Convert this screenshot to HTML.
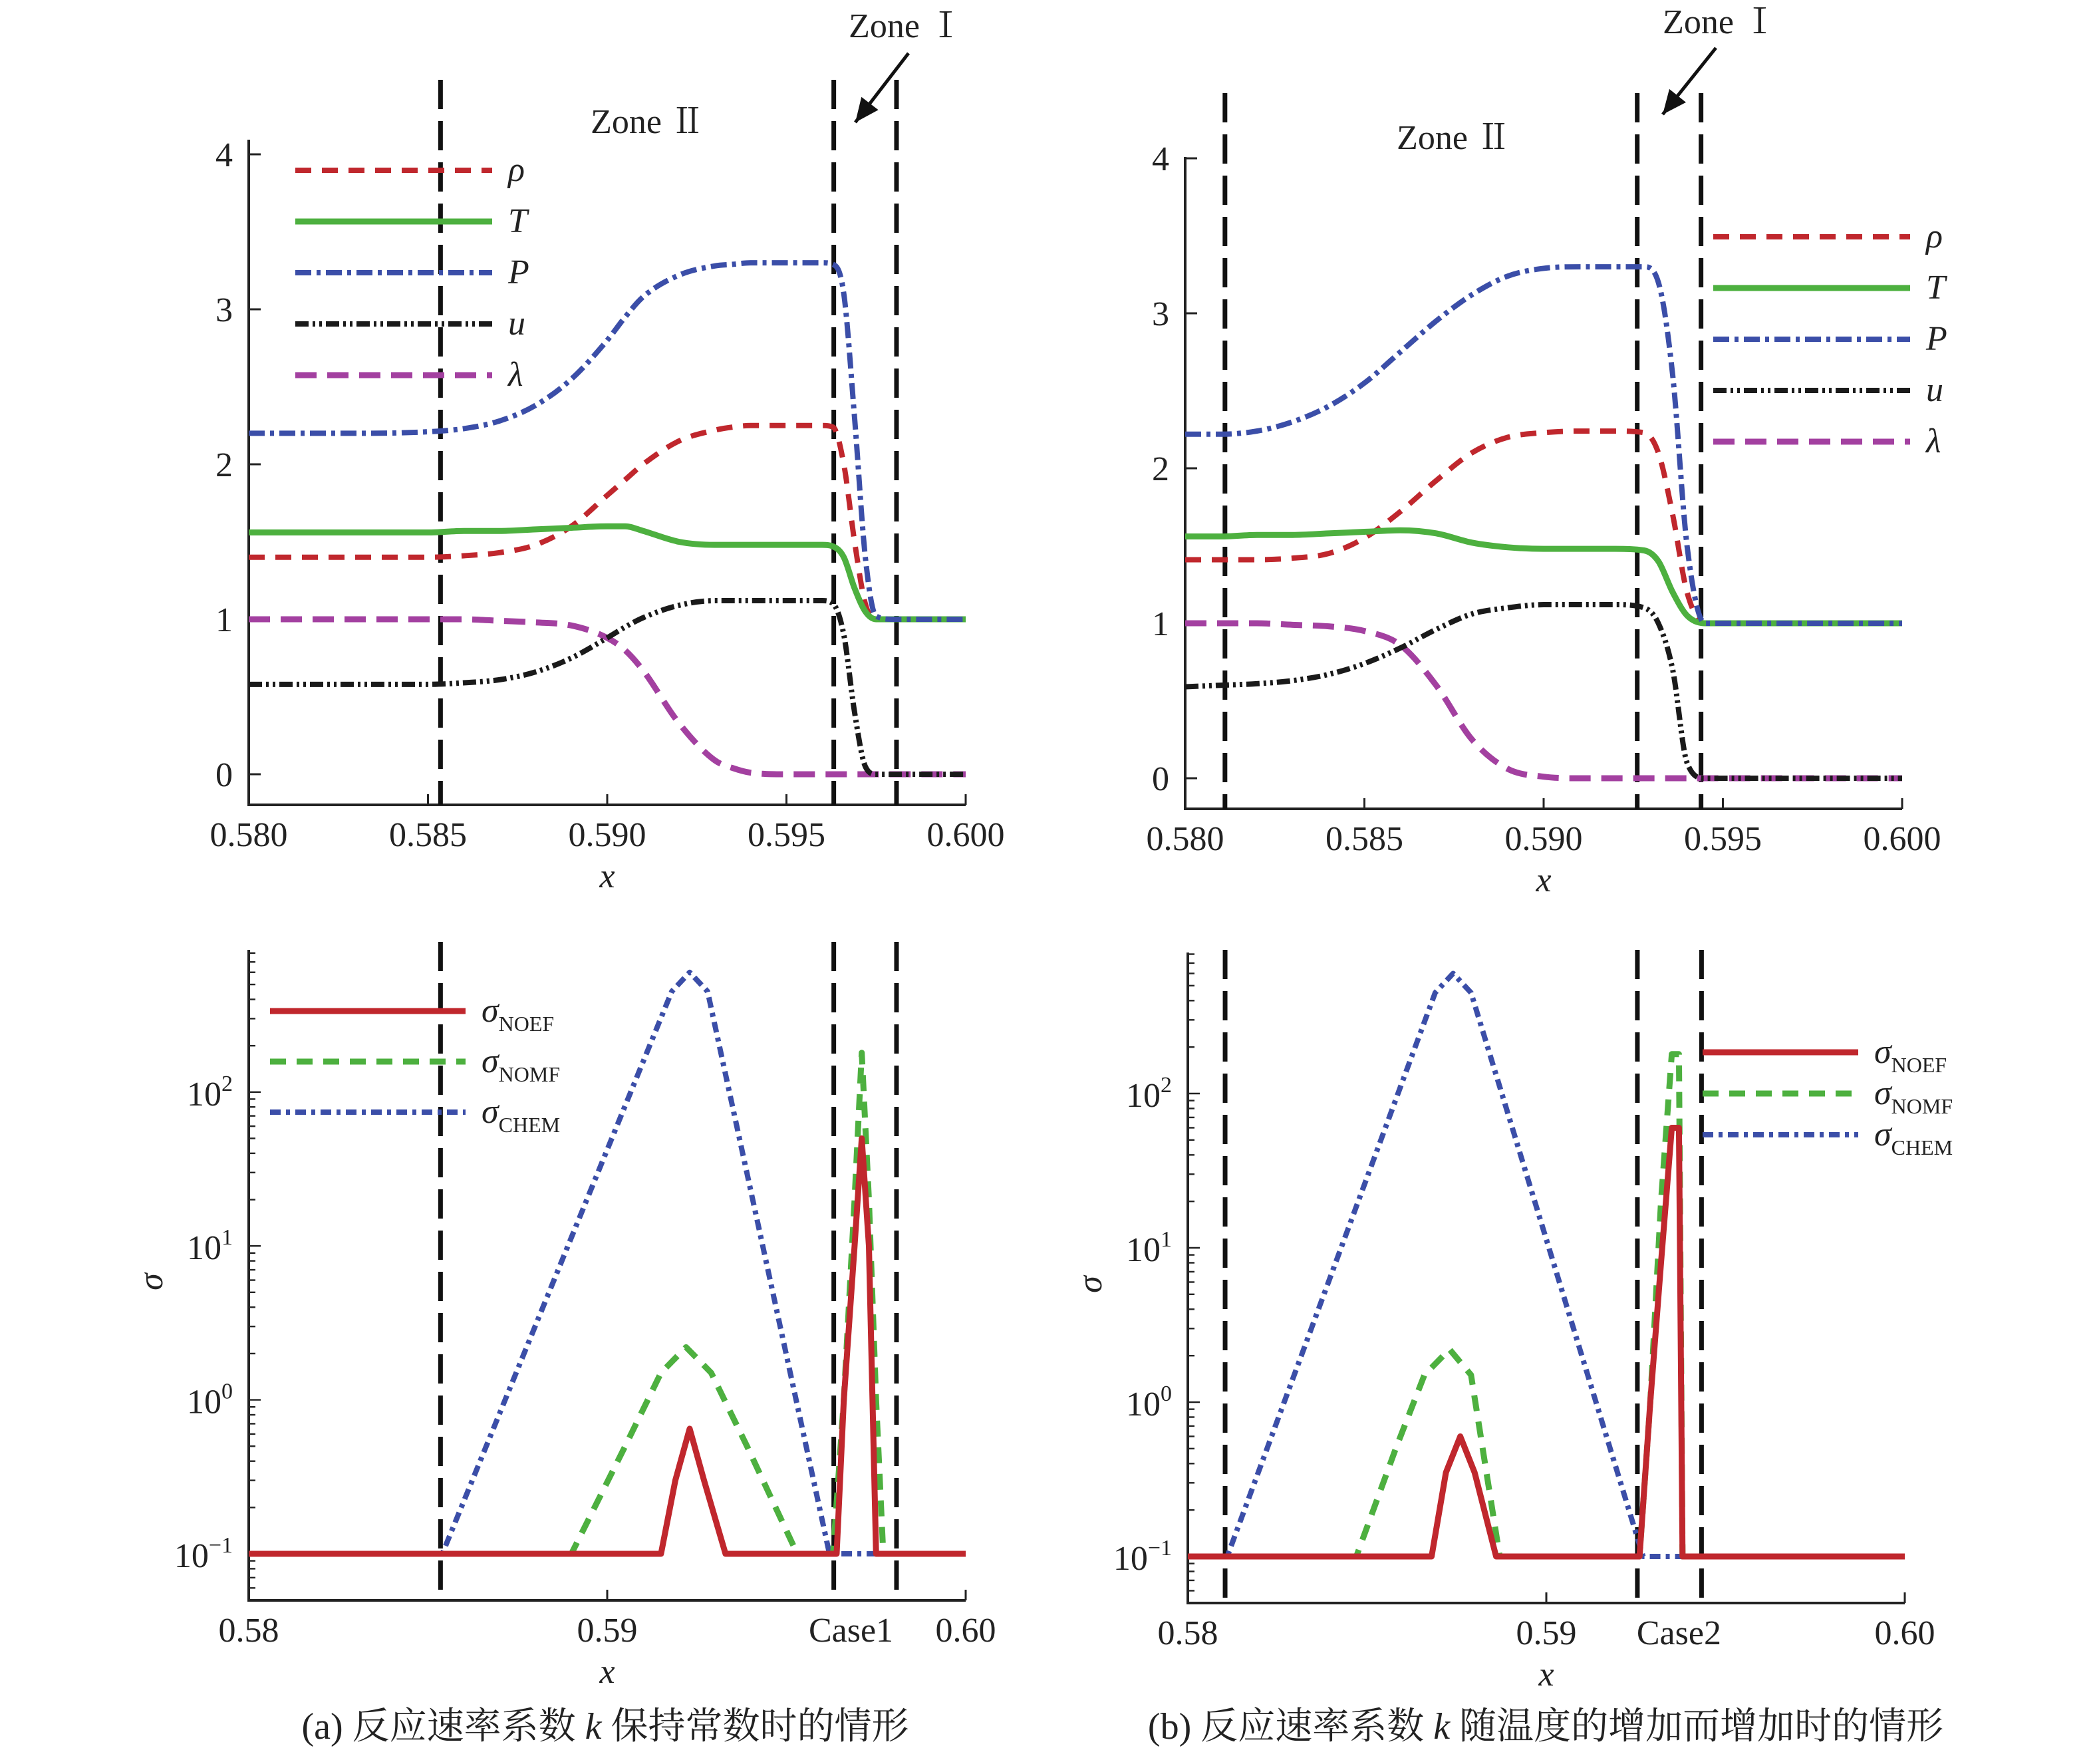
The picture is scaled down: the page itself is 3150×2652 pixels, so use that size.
<!DOCTYPE html>
<html><head><meta charset="utf-8">
<style>
html,body{margin:0;padding:0;background:#fff;}
svg{display:block;}
text{font-family:"Liberation Serif","Noto Serif CJK SC",serif;fill:#222;}
</style></head>
<body>
<svg id="fig" width="3150" height="2652" viewBox="0 0 1575 1326" xmlns="http://www.w3.org/2000/svg"></svg>
<script>
// ---- Panel (a) top data ----
const aTopX = [0.580,0.583,0.585,0.586,0.587,0.588,0.589,0.590,0.5905,0.591,0.592,0.593,0.5935,0.594,0.595,0.596,0.5963,0.5966,0.5969,0.5972,0.5975,0.598,0.600];
const aTopP = [2.2,2.2,2.21,2.23,2.28,2.38,2.55,2.8,2.95,3.08,3.22,3.28,3.29,3.3,3.3,3.3,3.29,3.1,2.3,1.4,1.02,1,1];
const aTopRho = [1.4,1.4,1.4,1.41,1.43,1.48,1.6,1.8,1.9,2.0,2.15,2.22,2.24,2.25,2.25,2.25,2.24,2.0,1.5,1.1,1.0,1,1];
const aTopT = [1.56,1.56,1.56,1.57,1.57,1.58,1.59,1.6,1.6,1.57,1.5,1.48,1.48,1.48,1.48,1.48,1.47,1.4,1.2,1.05,1.0,1,1];
const aTopU = [0.58,0.58,0.58,0.59,0.61,0.66,0.75,0.88,0.95,1.01,1.09,1.12,1.12,1.12,1.12,1.12,1.1,0.9,0.4,0.05,0,0,0];
const aTopLam = [1,1,1,1,0.99,0.98,0.96,0.88,0.8,0.67,0.33,0.09,0.04,0.01,0,0,0,0,0,0,0,0,0];
// ---- Panel (b) top data ----
const bTopX = [0.580,0.581,0.582,0.583,0.584,0.585,0.586,0.587,0.588,0.589,0.590,0.591,0.592,0.5928,0.5932,0.5936,0.594,0.5945,0.600];
const bTopP = [2.22,2.22,2.24,2.3,2.4,2.55,2.75,2.95,3.12,3.24,3.29,3.3,3.3,3.3,3.2,2.6,1.5,1.0,1.0];
const bTopRho = [1.41,1.41,1.41,1.42,1.45,1.55,1.72,1.92,2.1,2.2,2.23,2.24,2.24,2.23,2.1,1.7,1.2,1.0,1.0];
const bTopT = [1.56,1.56,1.57,1.57,1.58,1.59,1.6,1.58,1.52,1.49,1.48,1.48,1.48,1.47,1.4,1.2,1.05,1.0,1.0];
const bTopU = [0.59,0.6,0.61,0.63,0.67,0.74,0.84,0.96,1.06,1.1,1.12,1.12,1.12,1.1,1.0,0.7,0.1,0,0];
const bTopLam = [1,1,1,0.99,0.98,0.95,0.86,0.6,0.25,0.06,0.01,0,0,0,0,0,0,0,0];
// ---- Bottom (a) data ----
const aChemX = [0.58,0.5854,0.5918,0.5923,0.5928,0.5962,0.60];
const aChemY = [0.1,0.1,450,600,450,0.1,0.1];
const aNomfX = [0.58,0.589,0.5905,0.5915,0.5922,0.5929,0.5939,0.5953,0.5963,0.5966,0.5969,0.5971,0.5973,0.5975,0.5977,0.60];
const aNomfY = [0.1,0.1,0.5,1.5,2.2,1.5,0.5,0.1,0.1,1,20,180,20,1,0.1,0.1];
const aNoefX = [0.58,0.5915,0.5919,0.5923,0.5927,0.5933,0.5964,0.5966,0.5969,0.5971,0.5973,0.5975,0.60];
const aNoefY = [0.1,0.1,0.3,0.65,0.3,0.1,0.1,1,10,50,10,0.1,0.1];
// ---- Bottom (b) data ----
const bChemX = [0.58,0.5811,0.5869,0.5874,0.5879,0.5927,0.60];
const bChemY = [0.1,0.1,450,600,450,0.1,0.1];
const bNomfX = [0.58,0.5847,0.5858,0.5866,0.5873,0.5879,0.5887,0.5926,0.5929,0.5932,0.5935,0.5937,0.5938,0.60];
const bNomfY = [0.1,0.1,0.5,1.5,2.2,1.5,0.1,0.1,1,20,180,180,0.1,0.1];
const bNoefX = [0.58,0.5868,0.5872,0.5876,0.5880,0.5886,0.5926,0.5929,0.5932,0.5935,0.5937,0.5938,0.60];
const bNoefY = [0.1,0.1,0.35,0.6,0.35,0.1,0.1,1,8,60,60,0.1,0.1];
const topTicks = ["0.580","0.585","0.590","0.595","0.600"];
const topTickVals = [0.580,0.585,0.590,0.595,0.600];
const yTopTicks = [0,1,2,3,4];
const logTicks = [-1,0,1,2];

const NS="http://www.w3.org/2000/svg";
const svg=document.getElementById('fig');
function el(tag,attrs,parent){const e=document.createElementNS(NS,tag);for(const k in attrs)e.setAttribute(k,attrs[k]);(parent||svg).appendChild(e);return e;}
function txt(s,x,y,size,anchor,italic,parent){const t=el('text',{x:x,y:y,'font-size':size,'text-anchor':anchor||'middle'},parent);if(italic)t.setAttribute('font-style','italic');t.textContent=s;return t;}

// monotone cubic path through pixel points
function monoPath(P){
 const n=P.length;if(n<3)return P.map((p,i)=>(i?'L':'M')+p[0]+' '+p[1]).join(' ');
 const d=[],m=[];
 for(let i=0;i<n-1;i++){const dx=P[i+1][0]-P[i][0];d.push(dx===0?0:(P[i+1][1]-P[i][1])/dx);}
 m[0]=d[0];m[n-1]=d[n-2];
 for(let i=1;i<n-1;i++){m[i]=(d[i-1]*d[i]<=0)?0:(d[i-1]+d[i])/2;}
 for(let i=0;i<n-1;i++){if(d[i]===0){m[i]=0;m[i+1]=0;continue;}const a=m[i]/d[i],b=m[i+1]/d[i],s=a*a+b*b;if(s>9){const t=3/Math.sqrt(s);m[i]=t*a*d[i];m[i+1]=t*b*d[i];}}
 let s='M'+P[0][0].toFixed(2)+' '+P[0][1].toFixed(2);
 for(let i=0;i<n-1;i++){const h=(P[i+1][0]-P[i][0])/3;
  s+=` C${(P[i][0]+h).toFixed(2)} ${(P[i][1]+m[i]*h).toFixed(2)} ${(P[i+1][0]-h).toFixed(2)} ${(P[i+1][1]-m[i+1]*h).toFixed(2)} ${P[i+1][0].toFixed(2)} ${P[i+1][1].toFixed(2)}`;}
 return s;
}

const styles={
 rho:{stroke:'#c0272d',w:4,dash:'12 8'},
 T:{stroke:'#4db03f',w:4.5,dash:''},
 P:{stroke:'#3b4ea8',w:4,dash:'12 4 3 4'},
 u:{stroke:'#1a1a1a',w:4,dash:'10 3 2 3 2 3'},
 lam:{stroke:'#a340a0',w:4.5,dash:'16 8'},
 noef:{stroke:'#c0272d',w:4.5,dash:''},
 nomf:{stroke:'#4db03f',w:4.5,dash:'12 8'},
 chem:{stroke:'#3b4ea8',w:4,dash:'8 4 3 4'}
};

function panel(cfg){
 const g=el('g',{});
 
 
 const sx=v=>cfg.x0+(v-0.58)/0.02*(cfg.x1-cfg.x0);
 const sy=cfg.log? (v=>cfg.yA-(Math.log10(v)+1)*cfg.dec) : (v=>cfg.yA-v*cfg.unit);
 const ax=el('path',{d:`M${cfg.x0} ${cfg.yTop} L${cfg.x0} ${cfg.yBot} L${cfg.x1} ${cfg.yBot}`,fill:'none',stroke:'#222','stroke-width':2},g);
 
 
 cfg.xt.forEach((v,i)=>{
  el('line',{x1:sx(v),x2:sx(v),y1:cfg.yBot,y2:cfg.yBot-8,stroke:'#222','stroke-width':1.5},g);
  const t=txt(cfg.xl[i],sx(v),cfg.yBot+31,26,'middle',false,g);
  
  
 });
 if(cfg.caseLabel){const t=txt(cfg.caseLabel,sx(cfg.caseX),cfg.yBot+31,26,'middle',false,g);
  
  }
 const xl=txt('x',(cfg.x0+cfg.x1)/2,cfg.yBot+62,26,'middle',true,g);
 
 
 if(!cfg.log){
  yTopTicks.forEach(v=>{
   el('line',{x1:cfg.x0,x2:cfg.x0+9,y1:sy(v),y2:sy(v),stroke:'#222','stroke-width':1.5},g);
   const t=txt(String(v),cfg.x0-12,sy(v)+9,26,'end',false,g);
   
   
  });
 } else {
  for(let d=-2;d<=2;d++){for(let m=1;m<10;m++){const v=m*Math.pow(10,d);const y=cfg.yA-(Math.log10(v)+1)*cfg.dec;if(y<cfg.yTop||y>cfg.yBot)continue;
   el('line',{x1:cfg.x0,x2:cfg.x0+(m==1?9:5),y1:y,y2:y,stroke:'#222','stroke-width':1.2},g);}}
  logTicks.forEach(p=>{
   const y=cfg.yA-(p+1)*cfg.dec;
   const t=el('text',{x:cfg.x0-12,y:y+10,'font-size':26,'text-anchor':'end'},g);
   
   
   const a=el('tspan',{},t);a.textContent='10';
   const b=el('tspan',{dy:-11,'font-size':17},t);b.textContent=p<0?'\u22121':String(p);
  });
  const yl=txt('σ',0,0,26,'middle',true,g);
  yl.setAttribute('transform',`translate(${cfg.x0-65},${(cfg.yTop+cfg.yBot)/2+5}) rotate(-90)`);
  
  
 }
 cfg.vl.forEach(v=>{
  const l=el('line',{x1:sx(v),x2:sx(v),y1:cfg.vTop,y2:cfg.yBot,stroke:'#111','stroke-width':3.5,'stroke-dasharray':'22 9'},g);
  
  
 });
 cfg.series.forEach(s=>{
  const st=styles[s.k];
  const pts=s.xs.map((x,i)=>[sx(x),sy(s.ys[i])]);
  const d=cfg.log? pts.map((p,i)=>(i?'L':'M')+p[0].toFixed(2)+' '+p[1].toFixed(2)).join(' ') : monoPath(pts);
  const p=el('path',{d:d,fill:'none',stroke:st.stroke,'stroke-width':st.w,'stroke-linejoin':'round'},g);
  if(st.dash)p.setAttribute('stroke-dasharray',st.dash);
  
  
 });
 cfg.leg.items.forEach((it,i)=>{
  const st=styles[it.k];const y=cfg.leg.y+i*cfg.leg.dy;
  const l=el('line',{x1:cfg.leg.x0,x2:cfg.leg.x1,y1:y,y2:y,stroke:st.stroke,'stroke-width':st.w},g);
  if(st.dash)l.setAttribute('stroke-dasharray',st.dash);
  
  
  const t=el('text',{x:cfg.leg.x1+12,y:y+8,'font-size':26,'font-style':'italic'},g);
  
  
  const a=el('tspan',{},t);a.textContent=it.l;
  if(it.sub){const b=el('tspan',{dy:7,'font-size':16,'font-style':'normal'},t);b.textContent=it.sub;}
 });
}

const topLeg=[{k:'rho',l:'ρ'},{k:'T',l:'T'},{k:'P',l:'P'},{k:'u',l:'u'},{k:'lam',l:'λ'}];
const botLeg=[{k:'noef',l:'σ',sub:'NOEF'},{k:'nomf',l:'σ',sub:'NOMF'},{k:'chem',l:'σ',sub:'CHEM'}];

panel({name:'panel-a-top',x0:187,x1:726,yA:582,unit:116.5,yTop:105,yBot:605,vTop:60,
 xt:topTickVals,xl:topTicks,vl:[0.58535,0.59632,0.59807],
 series:[{k:'rho',xs:aTopX,ys:aTopRho},{k:'lam',xs:aTopX,ys:aTopLam},{k:'u',xs:aTopX,ys:aTopU},{k:'T',xs:aTopX,ys:aTopT},{k:'P',xs:aTopX,ys:aTopP}],
 leg:{x0:222,x1:370,y:128,dy:38.5,items:topLeg}});
panel({name:'panel-b-top',x0:891,x1:1430,yA:585,unit:116.5,yTop:118,yBot:608,vTop:70,
 xt:topTickVals,xl:topTicks,vl:[0.58111,0.59261,0.59439],
 series:[{k:'rho',xs:bTopX,ys:bTopRho},{k:'lam',xs:bTopX,ys:bTopLam},{k:'u',xs:bTopX,ys:bTopU},{k:'T',xs:bTopX,ys:bTopT},{k:'P',xs:bTopX,ys:bTopP}],
 leg:{x0:1288,x1:1436,y:178,dy:38.5,items:topLeg}});
panel({name:'panel-a-bottom',x0:187,x1:726,yA:1168,dec:115.7,log:true,yTop:714,yBot:1203,vTop:708,
 xt:[0.58,0.59,0.60],xl:['0.58','0.59','0.60'],caseLabel:'Case1',caseX:0.5968,vl:[0.58535,0.59632,0.59807],
 series:[{k:'chem',xs:aChemX,ys:aChemY},{k:'nomf',xs:aNomfX,ys:aNomfY},{k:'noef',xs:aNoefX,ys:aNoefY}],
 leg:{x0:203,x1:350,y:760,dy:38,items:botLeg}});
panel({name:'panel-b-bottom',x0:893,x1:1432,yA:1170,dec:116,log:true,yTop:716,yBot:1205,vTop:714,
 xt:[0.58,0.59,0.60],xl:['0.58','0.59','0.60'],caseLabel:'Case2',caseX:0.5937,vl:[0.58104,0.59254,0.59433],
 series:[{k:'chem',xs:bChemX,ys:bChemY},{k:'nomf',xs:bNomfX,ys:bNomfY},{k:'noef',xs:bNoefX,ys:bNoefY}],
 leg:{x0:1280,x1:1397,y:791,dy:31,items:botLeg}});

function zone(s,x,y,name){const t=txt(s,x,y,26,'middle',false);}
zone('Zone Ⅱ',487,100,'zone-2-label-a');
zone('Zone Ⅰ',681,28,'zone-1-label-a');
zone('Zone Ⅱ',1093,112,'zone-2-label-b');
zone('Zone Ⅰ',1293,25,'zone-1-label-b');
function arrow(x1,y1,x2,y2,name){
 const l=el('line',{x1:x1,y1:y1,x2:x2,y2:y2,stroke:'#111','stroke-width':2.5});
 
 
 const a=Math.atan2(y2-y1,x2-x1),L=18,w=8;
 const bx=x2-L*Math.cos(a),by=y2-L*Math.sin(a);
 const p=el('polygon',{points:`${x2},${y2} ${bx+w*Math.sin(a)},${by-w*Math.cos(a)} ${bx-w*Math.sin(a)},${by+w*Math.cos(a)}`,fill:'#111'});
 
 
}
arrow(683,40,643,92,'zone-1-arrow-a');
arrow(1290,36,1250,86,'zone-1-arrow-b');

const c1=el('text',{x:455,y:1307,'font-size':28,'text-anchor':'middle'});


c1.innerHTML='(a) 反应速率系数 <tspan font-style="italic">k</tspan> 保持常数时的情形';
const c2=el('text',{x:1162,y:1307,'font-size':28,'text-anchor':'middle'});


c2.innerHTML='(b) 反应速率系数 <tspan font-style="italic">k</tspan> 随温度的增加而增加时的情形';
</script>
</body></html>
